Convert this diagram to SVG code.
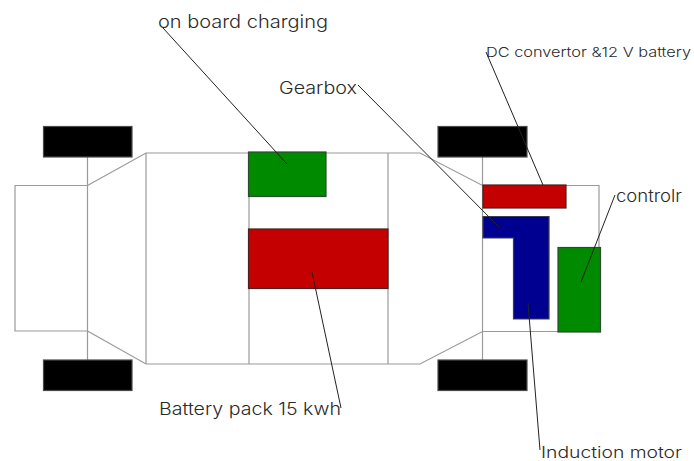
<svg xmlns="http://www.w3.org/2000/svg" width="694" height="461" viewBox="0 0 694 461">
<style>
.o{fill:none;stroke:#9a9a9a;stroke-width:1.2}
.w{fill:#000;stroke:#4a4a4a;stroke-width:1.2}
.g{fill:#008a00;stroke:#2c4a2c;stroke-width:1.2}
.r{fill:#c40000;stroke:#4a2020;stroke-width:1.2}
.b{fill:#000090;stroke:#3a3a5a;stroke-width:1.2}
.l{fill:none;stroke:#222;stroke-width:1}
text{font-family:"Inter","Liberation Sans",sans-serif;font-weight:300;fill:#2a2a2a}
</style>
<rect width="694" height="461" fill="#fff"/>
<g id="chassis">
<path class="o" d="M87.500 185.500H15V331H87.500M87.500 157V360M87.500 185.500L146 153H420L482.500 185.500H599V331.500H482.500L420 364H146L87.500 331M146 153V364M249 153V364M388 153V364M482.500 157V360"/>
</g>
<g id="wheel-front-top"><rect class="w" x="43.500" y="126.500" width="88.500" height="30.500"/></g>
<g id="wheel-front-bottom"><rect class="w" x="43.500" y="360" width="88.500" height="30.500"/></g>
<g id="wheel-rear-top"><rect class="w" x="438" y="126.500" width="89" height="30.500"/></g>
<g id="wheel-rear-bottom"><rect class="w" x="438" y="360" width="89" height="30.500"/></g>
<g id="on-board-charger"><rect class="g" x="248.500" y="152" width="77.500" height="44.500"/></g>
<g id="battery-pack"><rect class="r" x="248.500" y="229" width="139.500" height="59.500"/></g>
<g id="dc-convertor"><rect class="r" x="483" y="185" width="83" height="23"/></g>
<g id="gearbox-motor"><path class="b" d="M483 216.500H549V319H513.500V238H483Z"/></g>
<g id="controller"><rect class="g" x="558" y="247.500" width="42.500" height="84.500"/></g>
<g id="connectors">
<path class="l" d="M163 28L287 164"/>
<path class="l" d="M358 85L499 227"/>
<path class="l" d="M486 52L543 185"/>
<path class="l" d="M615 195L581 282"/>
<path class="l" d="M312 272L341 408"/>
<path class="l" d="M528 303L540 450"/>
</g>
<g id="labels">
<text x="158" y="28" font-size="18" textLength="170" lengthAdjust="spacingAndGlyphs">on board charging</text>
<text x="279" y="94" font-size="17" textLength="78" lengthAdjust="spacingAndGlyphs">Gearbox</text>
<text x="486" y="57" font-size="13.500" textLength="205" lengthAdjust="spacingAndGlyphs">DC convertor &amp;12 V battery</text>
<text x="616" y="202" font-size="17" textLength="66" lengthAdjust="spacingAndGlyphs">controlr</text>
<text x="159" y="415" font-size="17" textLength="182" lengthAdjust="spacingAndGlyphs">Battery pack 15 kwh</text>
<text x="541" y="458" font-size="16" textLength="141" lengthAdjust="spacingAndGlyphs">Induction motor</text>
</g>
</svg>
